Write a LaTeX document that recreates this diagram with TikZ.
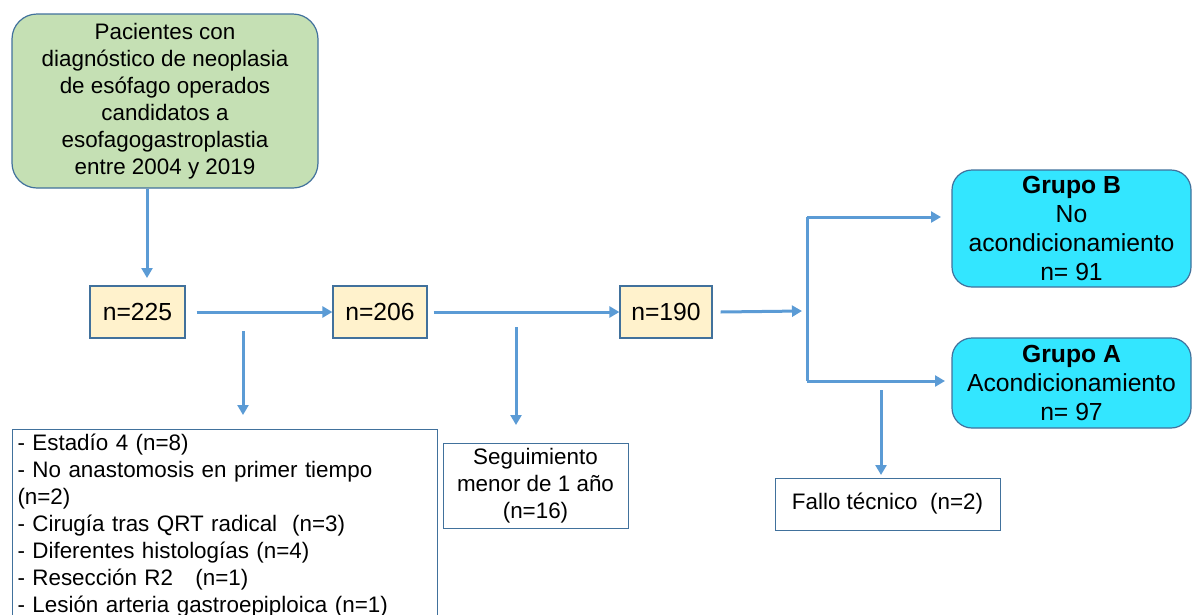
\documentclass[tikz,border=0pt]{standalone}
\usepackage{fontspec}
\setmainfont{Liberation Sans}
\usetikzlibrary{arrows.meta}
\definecolor{arrblue}{HTML}{5B9BD5}
\definecolor{bordblue}{HTML}{41719C}
\definecolor{greenfill}{HTML}{C5E0B4}
\definecolor{peach}{HTML}{FFF2CC}
\definecolor{cyanfill}{HTML}{33E6FF}
\begin{document}
\begin{tikzpicture}[x=1pt,y=-1pt,
  txt/.style={font=\fontsize{22.4}{27}\selectfont, text=black},
  bigtxt/.style={font=\fontsize{24.7}{29}\selectfont, text=black},
  startbox/.style={draw=bordblue, line width=1.2pt, fill=greenfill, rounded corners=25pt, align=center, minimum width=306pt, minimum height=174pt, inner sep=0pt},
  nbox/.style={draw=bordblue, line width=1.2pt, fill=peach, minimum height=52pt, inner sep=0pt},
  grpbox/.style={draw=bordblue, line width=1.2pt, fill=cyanfill, rounded corners=20pt, align=center, minimum width=239pt, inner sep=0pt},
  exbox/.style={draw=bordblue, line width=1pt, fill=white},
  arr/.style={draw=arrblue, line width=3pt, -{Triangle[length=10pt,width=11pt]}},
  plainline/.style={draw=arrblue, line width=3pt}]
\useasboundingbox (0,0) rectangle (1192,614);
\clip (0,0) rectangle (1192,614);

% nodes
\node[startbox, txt] (start) at (165,101) {Pacientes con\\diagnóstico de neoplasia\\de esófago operados\\candidatos a\\esofagogastroplastia\\entre 2004 y 2019};
\node[nbox, bigtxt, minimum width=95pt] (n225) at (137.5,312) {n=225};
\node[nbox, bigtxt, minimum width=94pt] (n206) at (380,312) {n=206};
\node[nbox, bigtxt, minimum width=92pt] (n190) at (666,312) {n=190};
\node[grpbox, bigtxt, minimum height=117pt] (grpB) at (1071.5,228.5) {\textbf{Grupo B}\\No\\acondicionamiento\\n= 91};
\node[grpbox, bigtxt, minimum height=90pt] (grpA) at (1071.5,383) {\textbf{Grupo A}\\Acondicionamiento\\n= 97};
\node[exbox, txt, anchor=north west, align=left, text width=415pt, inner xsep=5pt, inner ysep=4pt] (excl) at (12,429) {- Estadío 4 (n=8)\\- No anastomosis en primer tiempo\\(n=2)\\- Cirugía tras QRT radical\ \ (n=3)\\- Diferentes histologías (n=4)\\- Resección R2\ \ \ (n=1)\\- Lesión arteria gastroepiploica (n=1)};
\node[exbox, txt, align=center, minimum width=185pt, minimum height=85pt, inner sep=0pt] (segu) at (535.5,485.5) {Seguimiento\\menor de 1 año\\(n=16)};
\node[exbox, txt, minimum width=225pt, minimum height=52pt, inner sep=0pt] (fallo) at (887.5,504) {Fallo técnico\ \ (n=2)};

% coordinates
\coordinate (t225) at (147,278);
\coordinate (d1s) at (243,331);
\coordinate (d1e) at (243,415);
\coordinate (d2s) at (516,327);
\coordinate (d2e) at (516,425);
\coordinate (d3s) at (881,390);
\coordinate (d3e) at (881,475);
\coordinate (sp) at (802,311);
\coordinate (vx) at (807,311);
\coordinate (bt) at (941,217);
\coordinate (at) at (945,381);

% connectors
\draw[arr] (t225 |- start.south) -- (t225);
\draw[arr] ([xshift=11pt]n225.east) -- (n206.west);
\draw[arr] ([xshift=6pt]n206.east) -- (n190.west);
\draw[arr] ([xshift=8pt]n190.east) -- (sp);
\draw[plainline] (vx |- bt) -- (vx |- at);
\draw[arr] (vx |- bt) -- (bt);
\draw[arr] (vx |- at) -- (at);
\draw[arr] (d1s) -- (d1e);
\draw[arr] (d2s) -- (d2e);
\draw[arr] (d3s) -- (d3e);
\end{tikzpicture}
\end{document}
